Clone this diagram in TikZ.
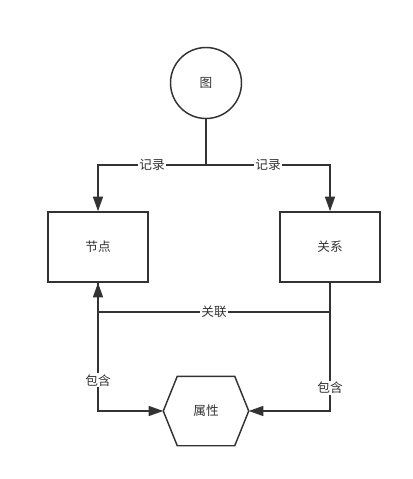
\documentclass[tikz,border=0pt]{standalone}
\usepackage{fontspec}
\setmainfont{Noto Sans CJK SC}
\usetikzlibrary{arrows.meta,positioning}
\definecolor{ink}{HTML}{333333}

\begin{document}
\begin{tikzpicture}[x=0.75pt, y=-0.75pt, >={Triangle[length=11pt,width=7.5pt]},
    line width=1.1pt, draw=ink, text=ink, font=\fontsize{9.5}{11}\selectfont,
    box/.style={draw, rectangle, minimum width=75pt, minimum height=52.5pt},
    ring/.style={draw, circle, minimum size=53.25pt, inner sep=0pt},
    hexbox/.style={minimum width=63pt, minimum height=51pt, inner sep=0pt},
    lbl/.style={fill=white, inner sep=1pt}]
    \useasboundingbox (0,0) rectangle (412,479);

    % Nodes {graph, vertex, rel, attr}
    \node [ring]    (graph)  at (206,83)   {图};
    \node [box]     (vertex) at (98,247)   {节点};
    \node [box]     (rel)    at (330,247)  {关系};
    \node [hexbox]  (attr)   at (206,411)  {属性};
    \draw (attr.west) -- ([xshift=10.5pt]attr.north west) -- ([xshift=-10.5pt]attr.north east)
        -- (attr.east) -- ([xshift=-10.5pt]attr.south east) -- ([xshift=10.5pt]attr.south west) -- cycle;

    % Joints
    \coordinate (split) at (206,165);
    \coordinate (link)  at (98,312);

    % Paths
    \draw [->] (graph) -- (split) -| node [lbl, pos=0.25] {记录} (vertex.north);
    \draw [->] (graph) -- (split) -| node [lbl, pos=0.25] {记录} (rel.north);
    \draw [->] (rel.south) |- node [lbl, pos=0.75] {关联} (link) -- (vertex.south);
    \draw [->] (vertex.south) |- node [lbl, pos=0.38] {包含} (attr.west);
    \draw [->] (rel.south) |- node [lbl, pos=0.41] {包含} (attr.east);
\end{tikzpicture}
\end{document}
